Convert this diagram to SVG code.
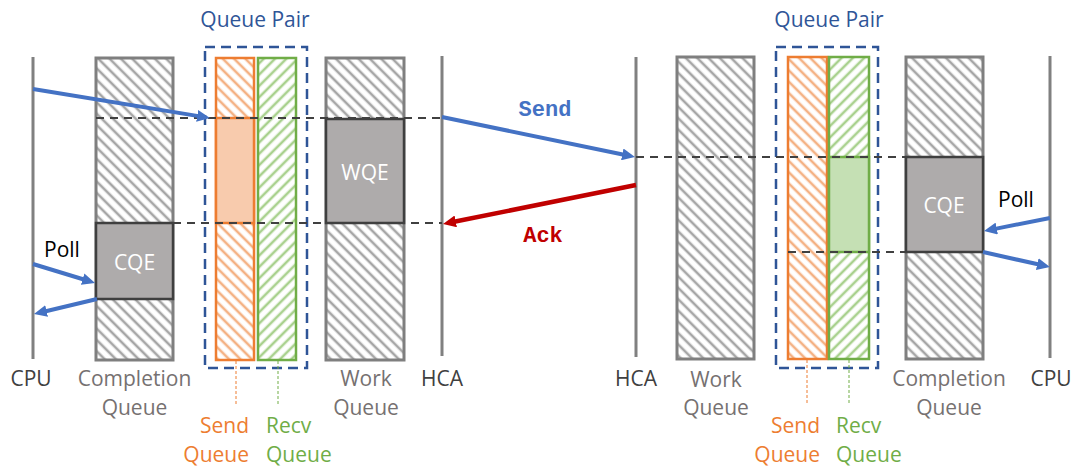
<svg xmlns="http://www.w3.org/2000/svg" width="1072" height="466" viewBox="0 0 1072 466">
<style>
text{font-family:"Open Sans","Liberation Sans",sans-serif;font-size:21px}
.c{text-anchor:middle}
.e{text-anchor:end}
.dark{fill:#404040}
.lbl{fill:#767171}
.so{fill:#ED7D31}
.rg{fill:#70AD47}
.qp{fill:#2F5597}
.w{fill:#fff}
.mono{font-family:"Liberation Mono","Courier New",monospace;font-weight:bold;font-size:22px}
.vl{stroke:#808080;stroke-width:3;fill:none}
.gbox{fill:url(#hg);stroke:#7F7F7F;stroke-width:3}
.obox{fill:url(#ho);stroke:#ED7D31;stroke-width:2.5}
.gnbox{fill:url(#hn);stroke:#70AD47;stroke-width:2.5}
.ent{fill:#AEABAB;stroke:#3F3F3F;stroke-width:2.5}
.qpb{fill:none;stroke:#2F5597;stroke-width:2.5;stroke-dasharray:10 6}
.dl{stroke:#404040;stroke-width:2;stroke-dasharray:8 6;fill:none}
.lo{stroke:#ED7D31;stroke-width:1;stroke-dasharray:3 2}
.lg{stroke:#70AD47;stroke-width:1;stroke-dasharray:3 2}
.ab{stroke:#4472C4;stroke-width:4;fill:none;marker-end:url(#mb)}
.ar{stroke:#C00000;stroke-width:4.5;fill:none;marker-end:url(#mr)}
</style>
<defs>
<pattern id="hg" width="8" height="8" patternUnits="userSpaceOnUse" patternTransform="rotate(-45)"><rect width="8" height="8" fill="#fff"/><line x1="4" y1="0" x2="4" y2="8" stroke="#A6A6A6" stroke-width="2.6"/></pattern>
<pattern id="ho" width="8" height="8" patternUnits="userSpaceOnUse" patternTransform="rotate(-45)"><rect width="8" height="8" fill="#fff"/><line x1="4" y1="0" x2="4" y2="8" stroke="#F4B183" stroke-width="2.6"/></pattern>
<pattern id="hn" width="8" height="8" patternUnits="userSpaceOnUse" patternTransform="rotate(45)"><rect width="8" height="8" fill="#fff"/><line x1="4" y1="0" x2="4" y2="8" stroke="#A9D18E" stroke-width="2.6"/></pattern>
<marker id="mb" viewBox="0 0 13 12" markerWidth="13" markerHeight="12" refX="3" refY="6" markerUnits="userSpaceOnUse" orient="auto"><path d="M0,0 L13,6 L0,12 z" fill="#4472C4"/></marker>
<marker id="mr" viewBox="0 0 13 12" markerWidth="13" markerHeight="12" refX="3" refY="6" markerUnits="userSpaceOnUse" orient="auto"><path d="M0,0 L13,6 L0,12 z" fill="#C00000"/></marker>
</defs>

<g id="left-cpu"><line class="vl" x1="33" y1="57" x2="33" y2="359"/><text class="c dark" x="31" y="386">CPU</text></g>
<g id="left-cq"><rect class="gbox" x="96" y="58" width="77" height="302"/><rect class="ent" x="96" y="223" width="77" height="76"/><text class="c w" x="134.5" y="270">CQE</text><text class="c lbl" x="134.5" y="386">Completion</text><text class="c lbl" x="134.5" y="415">Queue</text></g>
<g id="left-qp"><text class="c qp" x="255" y="27">Queue Pair</text><rect class="qpb" x="205" y="47" width="102" height="321"/></g>
<g id="left-sq"><rect class="obox" x="216" y="58" width="38" height="302"/><rect x="216" y="118" width="38" height="105" fill="#F8CBAD" stroke="#ED7D31" stroke-width="2.5"/><line class="lo" x1="236" y1="361" x2="236" y2="405"/><text class="e so" x="249" y="433">Send</text><text class="e so" x="249" y="462">Queue</text></g>
<g id="left-rq"><rect class="gnbox" x="258" y="58" width="38" height="302"/><line class="lg" x1="278" y1="361" x2="278" y2="405"/><text class="rg" x="266" y="433">Recv</text><text class="rg" x="266" y="462">Queue</text></g>
<g id="left-wq"><rect class="gbox" x="326" y="58" width="78" height="302"/><rect class="ent" x="326" y="119" width="78" height="104"/><text class="c w" x="365" y="180">WQE</text><text class="c lbl" x="366" y="386">Work</text><text class="c lbl" x="366" y="415">Queue</text></g>
<g id="left-hca"><line class="vl" x1="442" y1="56" x2="442" y2="356"/><text class="c dark" x="442" y="386">HCA</text></g>

<g id="right-hca"><line class="vl" x1="636" y1="57" x2="636" y2="357"/><text class="c dark" x="636" y="386">HCA</text></g>
<g id="right-wq"><rect class="gbox" x="677" y="57" width="77" height="302"/><text class="c lbl" x="716" y="387">Work</text><text class="c lbl" x="716" y="415">Queue</text></g>
<g id="right-qp"><text class="c qp" x="829" y="27">Queue Pair</text><rect class="qpb" x="776" y="47" width="102" height="321"/></g>
<g id="right-sq"><rect class="obox" x="788" y="57" width="39" height="302"/><line class="lo" x1="807" y1="360" x2="807" y2="405"/><text class="e so" x="820" y="433">Send</text><text class="e so" x="820" y="462">Queue</text></g>
<g id="right-rq"><rect class="gnbox" x="829" y="57" width="40" height="302"/><rect x="829" y="157" width="40" height="95" fill="#C5E0B4" stroke="#70AD47" stroke-width="2.5"/><line class="lg" x1="849" y1="360" x2="849" y2="405"/><text class="rg" x="836" y="433">Recv</text><text class="rg" x="836" y="462">Queue</text></g>
<g id="right-cq"><rect class="gbox" x="906" y="57" width="77" height="302"/><rect class="ent" x="906" y="157" width="77" height="95"/><text class="c w" x="944" y="213">CQE</text><text class="c lbl" x="949" y="386">Completion</text><text class="c lbl" x="949" y="415">Queue</text></g>
<g id="right-cpu"><line class="vl" x1="1050" y1="56" x2="1050" y2="358"/><text class="c dark" x="1051" y="386">CPU</text></g>

<g id="connectors">
<line class="dl" x1="96" y1="118" x2="442" y2="118"/>
<line class="dl" x1="173" y1="223" x2="442" y2="223"/>
<line class="dl" x1="636" y1="157" x2="906" y2="157"/>
<line class="dl" x1="788" y1="252" x2="906" y2="252"/>
<line class="ab" x1="33" y1="89" x2="200.1" y2="116.4"/>
<line class="ab" x1="442" y1="117" x2="625.2" y2="155"/>
<line class="ar" x1="636" y1="185" x2="452.8" y2="222"/>
<line class="ab" x1="33" y1="264" x2="85.5" y2="280"/>
<line class="ab" x1="97" y1="299" x2="43.7" y2="311.7"/>
<line class="ab" x1="1050" y1="218" x2="993.8" y2="229.1"/>
<line class="ab" x1="983" y1="252" x2="1040.2" y2="264.8"/>
<text class="c mono" x="545" y="116" fill="#4472C4">Send</text>
<text class="c mono" x="543" y="242" fill="#C00000">Ack</text>
<text x="44" y="257" fill="#000">Poll</text>
<text x="998" y="207" fill="#000">Poll</text>
</g>
</svg>
